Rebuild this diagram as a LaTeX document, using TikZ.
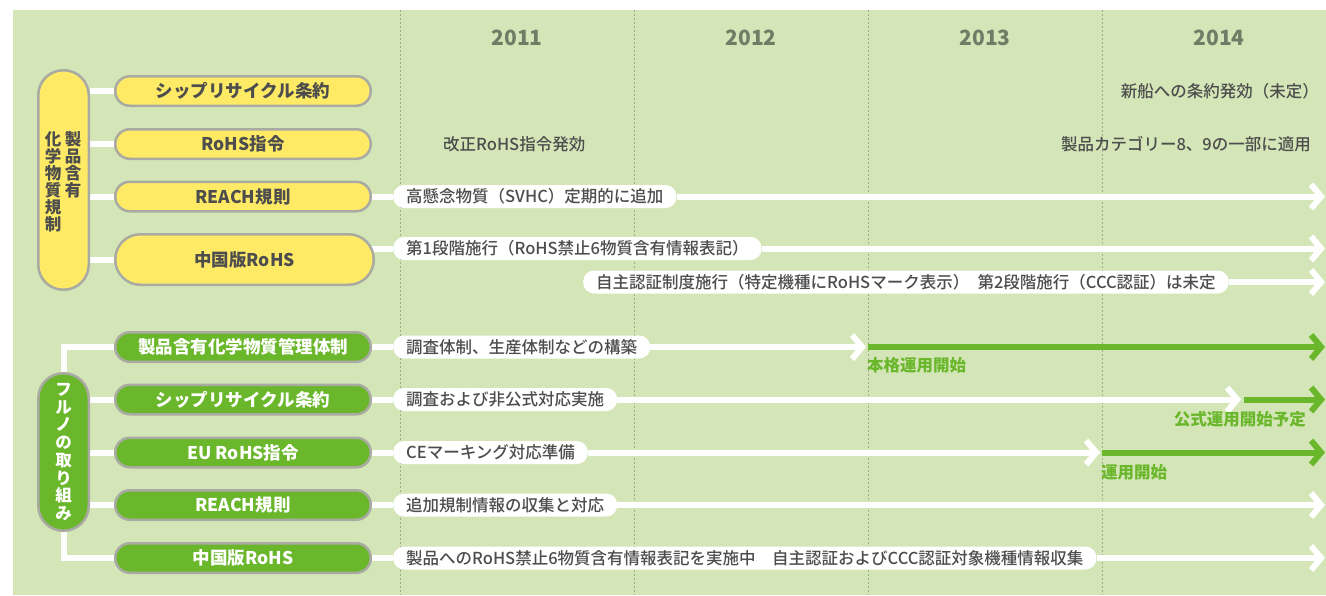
\documentclass[tikz,border=0pt]{standalone}
\usepackage{fontspec}
\setmainfont{Noto Sans CJK JP}
\newfontfamily\medf{Noto Sans CJK JP Medium}
\usetikzlibrary{arrows.meta}
\definecolor{bgc}{HTML}{D4E6B8}
\definecolor{yel}{HTML}{FFEA66}
\definecolor{grn}{HTML}{6AB72C}
\definecolor{bordc}{HTML}{A9AAA2}
\definecolor{txt}{HTML}{4D4D4D}
\definecolor{yearc}{HTML}{6F7D66}
\definecolor{gridc}{HTML}{9DAE8A}
\pgfdeclarelayer{back}
\pgfsetlayers{back,main}
\tikzset{
  ypill/.style={draw=bordc, line width=2.5pt, fill=yel, rounded corners=14.5pt,
    minimum width=255.5pt, minimum height=29.5pt, inner sep=0pt,
    font=\bfseries\fontsize{17.5}{20}\selectfont, text=txt},
  gpill/.style={ypill, fill=grn, text=white},
  tall/.style={draw=bordc, line width=2.5pt, rounded corners=25pt,
    minimum width=50.5pt, inner sep=0pt},
  vtext/.style={align=center, inner sep=0pt, anchor=north,
    font=\bfseries\fontsize{16.5}{17}\selectfont},
  lab/.style={fill=white, rounded corners=11pt, minimum height=23pt,
    inner xsep=13pt, inner ysep=0pt, anchor=west, text=txt,
    font=\medf\fontsize{16.5}{19}\selectfont},
  plain/.style={inner sep=0pt, text=txt, font=\medf\fontsize{16.5}{19}\selectfont},
  glab/.style={inner sep=0pt, text=grn, font=\bfseries\fontsize{16.5}{19}\selectfont},
  year/.style={inner sep=0pt, text=yearc, font=\bfseries\fontsize{21}{24}\selectfont},
  wline/.style={draw=white, line width=6pt},
  warr/.style={wline, -{Straight Barb[length=10pt,width=24pt]}},
  garr/.style={draw=grn, line width=6pt, -{Straight Barb[length=10pt,width=24pt]}},
  grid/.style={draw=gridc, line width=1pt, dash pattern=on 2pt off 2pt}
}
\begin{document}
\begin{tikzpicture}[x=1pt,y=-1pt]
\useasboundingbox (0,0) rectangle (1326,595);
% years
\node[year] (y1) at (517,38) {2011};
\node[year] (y2) at (751,38) {2012};
\node[year] (y3) at (985,38) {2013};
\node[year] (y4) at (1219,38) {2014};
% upper group
\node[tall, fill=yel, minimum height=219.5pt] (ybox) at (63.5,180) {};
\node[vtext, text=txt] (yv1) at (73,131) {製\\品\\含\\有};
\node[vtext, text=txt] (yv2) at (53,131) {化\\学\\物\\質\\規\\制};
\node[ypill] (p1) at (243,91) {シップリサイクル条約};
\node[ypill] (p2) at (243,144) {RoHS指令};
\node[ypill] (p3) at (243,196.5) {REACH規則};
\node[ypill, minimum height=50.5pt, minimum width=258.5pt, rounded corners=25pt] (p4) at (244.5,259.5) {中国版RoHS};
% lower group
\node[tall, fill=grn, minimum height=157.5pt] (gbox) at (63.5,452) {};
\node[vtext, text=white, font=\bfseries\fontsize{16.5}{17.75}\selectfont] (gv) at (63.5,383) {フ\\ル\\ノ\\の\\取\\り\\組\\み};
\node[gpill] (g1) at (243,347) {製品含有化学物質管理体制};
\node[gpill] (g2) at (243,399.5) {シップリサイクル条約};
\node[gpill] (g3) at (243,452.5) {EU RoHS指令};
\node[gpill] (g4) at (243,505) {REACH規則};
\node[gpill] (g5) at (243,558) {中国版RoHS};
% plain texts
\node[plain, anchor=west] (t1) at (443,144) {改正RoHS指令発効};
\node[plain, anchor=east] (t2) at (1319,91) {新船への条約発効（未定）};
\node[plain, anchor=east] (t3) at (1311,144) {製品カテゴリー8、9の一部に適用};
% labels
\node[lab] (l1) at (393,196.5) {高懸念物質（SVHC）定期的に追加};
\node[lab] (l2) at (393,248.5) {第1段階施行（RoHS禁止6物質含有情報表記）};
\node[lab] (l3) at (583,282) {自主認証制度施行（特定機種にRoHSマーク表示）\hspace{0.5em}第2段階施行（CCC認証）は未定};
\node[lab] (m1) at (393,347) {調査体制、生産体制などの構築};
\node[lab] (m2) at (393,399.5) {調査および非公式対応実施};
\node[lab] (m3) at (393,452.5) {CEマーキング対応準備};
\node[lab] (m4) at (393,505) {追加規制情報の収集と対応};
\node[lab] (m5) at (393,558) {製品へのRoHS禁止6物質含有情報表記を実施中　自主認証およびCCC認証対象機種情報収集};
% green labels
\node[glab, anchor=west] (s1) at (867,365) {本格運用開始};
\node[glab, anchor=east] (s2) at (1306,419) {公式運用開始予定};
\node[glab, anchor=west] (s3) at (1101,472) {運用開始};
% coordinates
\coordinate (e1) at (1325,196.5);
\coordinate (e2) at (1325,248.5);
\coordinate (e3) at (1325,282);
\coordinate (a1) at (866,347);
\coordinate (b1) at (868,347);
\coordinate (f1) at (1325,347);
\coordinate (a2) at (1241,399.5);
\coordinate (b2) at (1244,399.5);
\coordinate (f2) at (1325,399.5);
\coordinate (a3) at (1100,452.5);
\coordinate (b3) at (1102,452.5);
\coordinate (f3) at (1325,452.5);
\coordinate (f4) at (1325,505);
\coordinate (f5) at (1325,558);
\begin{pgfonlayer}{back}
\fill[bgc] (13,10) rectangle (1326,595);
\foreach \x in {400,634,868,1102} \draw[grid] (\x,10) -- (\x,595);
% tree connectors
\foreach \p in {p1,p2,p3,p4} \draw[wline] (\p.west -| ybox.east) -- (\p.west);
\draw[wline] (gbox.north) |- (g1.west);
\foreach \p in {g2,g3,g4} \draw[wline] (\p.west -| gbox.east) -- (\p.west);
\draw[wline] (gbox.south) |- (g5.west);
% timelines
\draw[wline] (p3.center) -- (l1.west);
\draw[warr] (l1.east) -- (e1);
\draw[wline] (l2.west -| p4.center) -- (l2.west);
\draw[warr] (l2.east) -- (e2);
\draw[warr] (l3.east) -- (e3);
\draw[wline] (g1.center) -- (m1.west);
\draw[warr] (m1.east) -- (a1);
\draw[garr] (b1) -- (f1);
\draw[wline] (g2.center) -- (m2.west);
\draw[warr] (m2.east) -- (a2);
\draw[garr] (b2) -- (f2);
\draw[wline] (g3.center) -- (m3.west);
\draw[warr] (m3.east) -- (a3);
\draw[garr] (b3) -- (f3);
\draw[wline] (g4.center) -- (m4.west);
\draw[warr] (m4.east) -- (f4);
\draw[wline] (g5.center) -- (m5.west);
\draw[warr] (m5.east) -- (f5);
\end{pgfonlayer}
\end{tikzpicture}
\end{document}
